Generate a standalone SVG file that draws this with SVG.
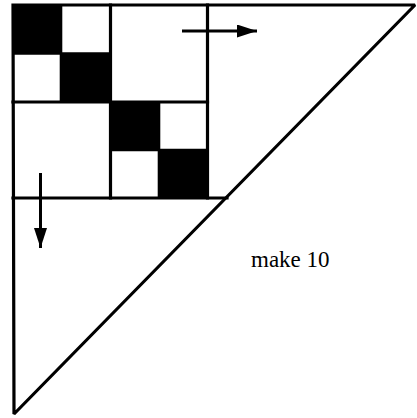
<svg xmlns="http://www.w3.org/2000/svg" width="417" height="418" viewBox="0 0 417 418">
  <defs>
    <style>
      .edge { stroke: #000; stroke-width: 3.2; fill: none; stroke-linecap: square; }
      .thin { stroke: #000; stroke-width: 2.6; fill: none; }
      .blk { fill: #000; }
      .arr { stroke: #000; stroke-width: 3; fill: none; }
      .lbl { font-family: "Liberation Serif", "Times New Roman", serif; font-size: 23px; fill: #000; }
    </style>
    <marker id="ah" viewBox="0 0 20 13" refX="20" refY="6.5" markerWidth="20" markerHeight="13" markerUnits="userSpaceOnUse" orient="auto">
      <path d="M0,0 L20,6.5 L0,13 Z" fill="#000"/>
    </marker>
  </defs>
  <rect width="417" height="418" fill="#fff"/>
  <g id="triangle">
    <polygon class="edge" points="13,5 415,5 14,414" stroke-linejoin="miter" stroke-miterlimit="1.5"/>
  </g>
  <g id="cells">
    <rect class="blk" x="13" y="5" width="48" height="48.5"/>
    <rect class="blk" x="61" y="53.5" width="49.5" height="48.5"/>
    <rect class="blk" x="110.5" y="102" width="48.5" height="48"/>
    <rect class="blk" x="159" y="150" width="48.5" height="48"/>
  </g>
  <g id="grid">
    <line class="thin" x1="61" y1="5" x2="61" y2="102"/>
    <line class="thin" x1="13" y1="53.5" x2="110.5" y2="53.5"/>
    <line class="thin" x1="159" y1="102" x2="159" y2="198"/>
    <line class="thin" x1="110.5" y1="150" x2="207.5" y2="150"/>
    <line class="edge" x1="110.5" y1="5" x2="110.5" y2="198"/>
    <line class="edge" x1="13" y1="102" x2="207.5" y2="102"/>
    <line class="edge" x1="207.5" y1="5" x2="207.5" y2="198"/>
    <line class="edge" x1="13" y1="198" x2="227" y2="198"/>
  </g>
  <g id="connectors">
    <line class="arr" x1="182" y1="31" x2="257" y2="31" marker-end="url(#ah)"/>
    <line class="arr" x1="40.5" y1="173" x2="40.5" y2="248" marker-end="url(#ah)"/>
  </g>
  <g id="label">
    <text class="lbl" x="251" y="267">make 10</text>
  </g>
</svg>
